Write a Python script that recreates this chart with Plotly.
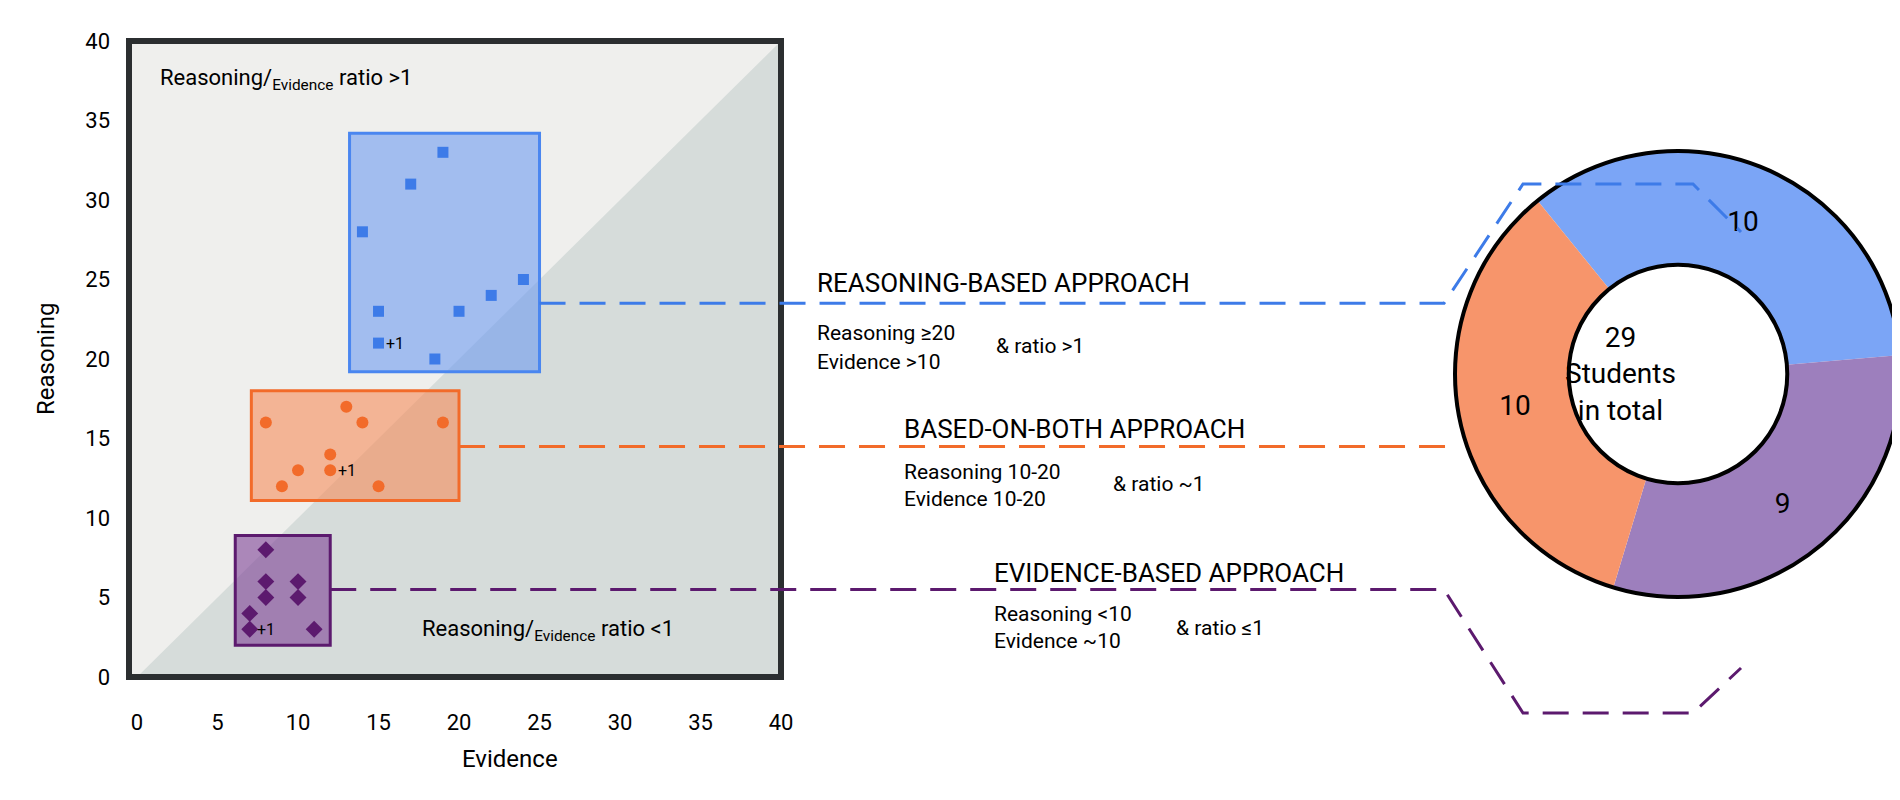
import plotly.graph_objects as go

W, H = 1900, 800

# data
reason_x = [19, 17, 14, 24, 22, 15, 20, 15, 18.5]
reason_y = [33, 31, 28, 25, 24, 23, 23, 21, 20]
both_x = [8, 13, 14, 19, 12, 10, 12, 9, 15]
both_y = [16, 17, 16, 16, 14, 13, 13, 12, 12]
evid_x = [8, 8, 10, 8, 10, 7, 7, 11]
evid_y = [8, 6, 6, 5, 5, 4, 3, 3]
extra_pts = [(15, 21), (12, 13), (7, 3)]  # "+1" marks

pie_labels = ["Reasoning-based", "Evidence-based", "Based-on-both"]
pie_values = [10, 9, 10]

BLUE, ORANGE, PURPLE = "#3d7be8", "#f26b2a", "#5c1a6e"

# axis placement in pixels
XR, YR = (-0.5, 40.0), (0.0, 40.0)
PL, PR, PT, PB = 121, 773, 33, 669


def px(x):
    return (PL + (x - XR[0]) / (XR[1] - XR[0]) * (PR - PL)) / W


def py(y):
    return 1 - (PB - (y - YR[0]) / (YR[1] - YR[0]) * (PB - PT)) / H


fig = go.Figure()

# background triangle
fig.add_shape(type="path", path="M 0,0 L 40,40 L 40,0 Z", xref="x", yref="y",
              fillcolor="#d6dcda", line=dict(width=0), layer="below")

boxes = [((13.2, 25.0, 19.2, 34.2), "rgba(110,155,240,0.6)", "#4a86f0"),
         ((7.1, 20.0, 11.1, 18.0), "rgba(245,140,90,0.6)", ORANGE),
         ((6.1, 12.0, 2.0, 8.9), "rgba(125,65,150,0.6)", PURPLE)]
for (x0, x1, y0, y1), fc, lc in boxes:
    fig.add_shape(type="rect", x0=x0, x1=x1, y0=y0, y1=y1, xref="x", yref="y",
                  fillcolor=fc, line=dict(color=lc, width=3), layer="below")

fig.add_trace(go.Scatter(x=reason_x, y=reason_y, mode="markers",
                         marker=dict(symbol="square", size=11, color=BLUE), showlegend=False))
fig.add_trace(go.Scatter(x=both_x, y=both_y, mode="markers",
                         marker=dict(symbol="circle", size=12, color=ORANGE), showlegend=False))
fig.add_trace(go.Scatter(x=evid_x, y=evid_y, mode="markers",
                         marker=dict(symbol="diamond", size=13, color=PURPLE), showlegend=False))
for ex, ey in extra_pts:
    fig.add_annotation(x=ex + 0.35, y=ey, text="+1", showarrow=False, xanchor="left",
                       font=dict(size=16, color="black"))

# frame
fig.add_shape(type="rect", xref="paper", yref="paper", x0=PL / W, x1=PR / W,
              y0=1 - PB / H, y1=1 - PT / H, line=dict(color="#2b2e30", width=6))

# donut
cx, cy, R = 1670, 366, 223
fig.add_trace(go.Pie(labels=pie_labels, values=pie_values, hole=0.49, sort=False,
                     direction="clockwise", rotation=-39,
                     marker=dict(colors=["#7ba5f6", "#9d7fbd", "#f7956b"]),
                     textinfo="value", textposition="inside", insidetextorientation="horizontal",
                     textfont=dict(size=28, color="black"), showlegend=False,
                     domain=dict(x=[(cx - R) / W, (cx + R) / W], y=[1 - (cy + R) / H, 1 - (cy - R) / H])))
for r in (R, R * 0.49):
    fig.add_shape(type="circle", xref="paper", yref="paper", x0=(cx - r) / W, x1=(cx + r) / W,
                  y0=1 - (cy + r) / H, y1=1 - (cy - r) / H, line=dict(color="black", width=4))
fig.add_annotation(xref="paper", yref="paper", x=cx / W, y=1 - cy / H, showarrow=False,
                   text="29<br>Students<br>in total", font=dict(size=28, color="black"))

# connectors
lines = [
    (BLUE, [(px(25), py(23.5)), (1436 / W, py(23.5)), (1515 / W, 1 - 176 / H),
            (1685 / W, 1 - 176 / H), (1733 / W, 1 - 224 / H)]),
    (ORANGE, [(px(20), py(14.5)), (1447 / W, py(14.5))]),
    (PURPLE, [(px(12), py(5.5)), (1436 / W, py(5.5)), (1515 / W, 1 - 705 / H),
              (1685 / W, 1 - 705 / H), (1733 / W, 1 - 660 / H)]),
]
for col, pts in lines:
    path = "M " + " L ".join(f"{x:.5f},{y:.5f}" for x, y in pts)
    fig.add_shape(type="path", path=path, xref="paper", yref="paper",
                  line=dict(color=col, width=3, dash="26px,14px"))

# labels
txt = [
    (807, 275, "REASONING-BASED APPROACH", 26), (807, 325, "Reasoning ≥20", 21),
    (807, 354, "Evidence >10", 21), (986, 338, "& ratio >1", 21),
    (894, 421, "BASED-ON-BOTH APPROACH", 26), (894, 464, "Reasoning 10-20", 21),
    (894, 491, "Evidence 10-20", 21), (1103, 476, "& ratio ~1", 21),
    (984, 565, "EVIDENCE-BASED APPROACH", 26), (984, 606, "Reasoning <10", 21),
    (984, 633, "Evidence ~10", 21), (1166, 620, "& ratio ≤1", 21),
    (150, 72, "Reasoning/<sub>Evidence</sub> ratio >1", 22),
    (412, 622, "Reasoning/<sub>Evidence</sub> ratio <1", 22),
]
for x, y, t, s in txt:
    fig.add_annotation(xref="paper", yref="paper", x=x / W, y=1 - y / H, text=t, showarrow=False,
                       xanchor="left", yanchor="middle", font=dict(size=s, color="black"))

fig.add_annotation(xref="paper", yref="paper", x=22 / W, y=1 - 351 / H, text="Reasoning",
                   textangle=-90, showarrow=False, font=dict(size=24, color="black"))
fig.add_annotation(xref="paper", yref="paper", x=452 / W, y=1 - 767 / H, text="Evidence",
                   showarrow=False, font=dict(size=24, color="black"))

fig.update_layout(
    width=W, height=H, margin=dict(l=0, r=0, t=0, b=0),
    paper_bgcolor="white", plot_bgcolor="#efefed",
    font=dict(family="Roboto", color="black"),
    xaxis=dict(domain=[PL / W, PR / W], range=list(XR), tickvals=list(range(0, 41, 5)),
               showgrid=False, zeroline=False, ticks="", automargin=False,
               ticklabelstandoff=30, tickfont=dict(size=22)),
    yaxis=dict(domain=[1 - PB / H, 1 - PT / H], range=list(YR), tickvals=list(range(0, 41, 5)),
               showgrid=False, zeroline=False, ticks="", automargin=False,
               ticklabelstandoff=18, tickfont=dict(size=22)),
)

fig.write_html("out.html")
